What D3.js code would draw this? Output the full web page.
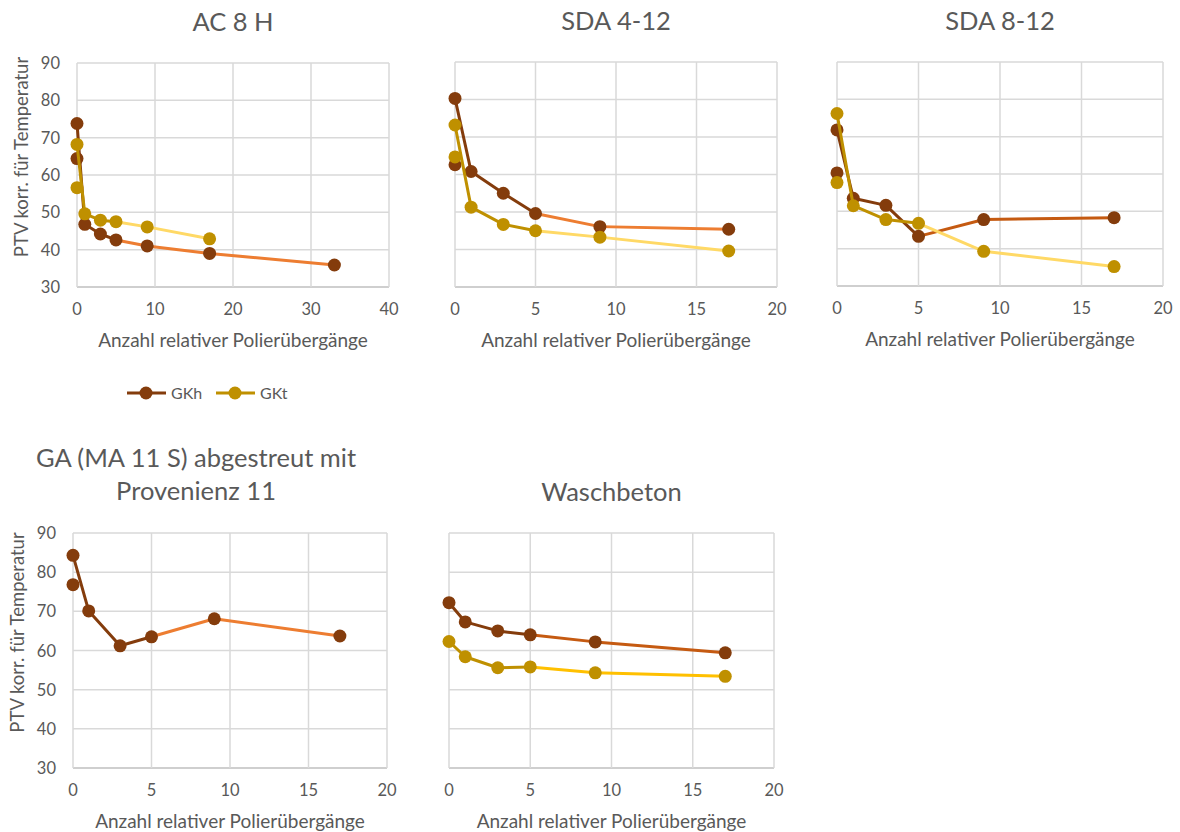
<!DOCTYPE html>
<html>
<head>
<meta charset="utf-8">
<script src="https://cdn.jsdelivr.net/npm/d3@7"></script>
<style>
  body { margin: 0; background: #fff; }
  text { font-family: Lato, "Open Sans", sans-serif; fill: #595959; }
</style>
</head>
<body>
<svg id="chart" width="1180" height="832"></svg>
<script>
// panel titles
const titles = [["AC 8 H"], ["SDA 4-12"], ["SDA 8-12"], ["GA (MA 11 S) abgestreut mit", "Provenienz 11"], ["Waschbeton"]];

// passes (x) for each panel
const xAC8H = [0, 1, 3, 5, 9, 17, 33];
const xSDA = [0, 1, 3, 5, 9, 17];

// GKh values
const gkhAC8H = [73.8, 46.8, 44.2, 42.6, 41.0, 39.0, 35.9];
const gkhSDA412 = [80.3, 60.8, 55.0, 49.6, 46.1, 45.4];
const gkhSDA812 = [71.8, 53.5, 51.6, 43.3, 47.8, 48.3];
const gkhGA = [84.3, 70.1, 61.2, 63.5, 68.1, 63.7];
const gkhWasch = [72.2, 67.3, 65.0, 64.0, 62.2, 59.4];

// GKt values
const gktAC8H = [68.2, 49.6, 47.9, 47.5, 46.1, 42.9];
const gktSDA412 = [73.2, 51.3, 46.7, 45.0, 43.3, 39.6];
const gktSDA812 = [76.2, 51.5, 47.8, 46.8, 39.3, 35.2];
const gktWasch = [62.3, 58.4, 55.6, 55.8, 54.3, 53.4];

// extra point at x = 0 (not joined to line)
const gkhStart = [64.4, 62.6, 60.3, 76.8, null];
const gktStart = [56.6, 64.7, 57.7, null, null];

const yTicks = [30, 40, 50, 60, 70, 80, 90];
const xMax = [40, 20, 20, 20, 20];
const xStep = [10, 5, 5, 5, 5];

const series = ["GKh", "GKt"];

const markColor = { GKh: "#843C0C", GKt: "#BF9000" };
const lineLate = [
  { GKh: "#ED7D31", GKt: "#FFD966" },
  { GKh: "#ED7D31", GKt: "#FFD966" },
  { GKh: "#C55A11", GKt: "#FFD966" },
  { GKh: "#ED7D31", GKt: "#FFD966" },
  { GKh: "#C55A11", GKt: "#FFC000" }
];

// plot boxes: left, right, top, bottom
const boxes = [
  [77, 389, 63, 287],
  [455, 777, 62, 287],
  [837, 1163, 62, 286],
  [73, 387, 533, 768],
  [449, 774, 533, 768]
];

const panels = [
  { x: [xAC8H, xAC8H.slice(0, 6)], y: [gkhAC8H, gktAC8H] },
  { x: [xSDA, xSDA], y: [gkhSDA412, gktSDA412] },
  { x: [xSDA, xSDA], y: [gkhSDA812, gktSDA812] },
  { x: [xSDA, null], y: [gkhGA, null] },
  { x: [xSDA, xSDA], y: [gkhWasch, gktWasch] }
];
const starts = [gkhStart, gktStart];

const svg = d3.select("#chart");

panels.forEach((p, i) => {
  const [l, r, t, b] = boxes[i];
  const g = svg.append("g");
  const x = d3.scaleLinear().domain([0, xMax[i]]).range([l, r]);
  const y = d3.scaleLinear().domain([30, 90]).range([b, t]);
  const xt = d3.range(0, xMax[i] + 1, xStep[i]);

  // grid
  g.selectAll(".hg").data(yTicks).enter().append("line")
    .attr("x1", l).attr("x2", r).attr("y1", d => y(d)).attr("y2", d => y(d))
    .attr("stroke", d => d === 30 ? "#bfbfbf" : "#d9d9d9").attr("stroke-width", 1.5);
  g.selectAll(".vg").data(xt).enter().append("line")
    .attr("x1", d => x(d)).attr("x2", d => x(d)).attr("y1", t).attr("y2", b)
    .attr("stroke", "#d9d9d9").attr("stroke-width", 1.5);

  // x tick labels
  g.selectAll(".xl").data(xt).enter().append("text")
    .attr("x", d => x(d)).attr("y", b + 28)
    .attr("text-anchor", "middle").attr("font-size", 16.5).text(d => d);

  // y tick labels, only first column
  if (i === 0 || i === 3) {
    g.selectAll(".yl").data(yTicks).enter().append("text")
      .attr("x", l - 17).attr("y", d => y(d) + 6)
      .attr("text-anchor", "end").attr("font-size", 16.5).text(d => d);
    g.append("text")
      .attr("transform", `translate(${l - 49},${(t + b) / 2 - 18}) rotate(-90)`)
      .attr("text-anchor", "middle").attr("font-size", 18.5)
      .text("PTV korr. für Temperatur");
  }

  // x axis title
  g.append("text")
    .attr("x", (l + r) / 2).attr("y", b + 60)
    .attr("text-anchor", "middle").attr("font-size", 19)
    .text("Anzahl relativer Polierübergänge");

  // panel title
  const lines = titles[i];
  lines.forEach((s, k) => {
    g.append("text")
      .attr("x", lines.length > 1 ? 196 : (l + r) / 2)
      .attr("y", lines.length > 1 ? t - 66 + k * 33 : t - 32)
      .attr("text-anchor", "middle").attr("font-size", 25.5)
      .text(s);
  });

  // series lines and markers
  series.forEach((s, j) => {
    const xs = p.x[j], ys = p.y[j];
    if (!xs) return;
    const pts = xs.map((v, k) => [v, ys[k]]);
    for (let k = 0; k < pts.length - 1; k++) {
      g.append("line")
        .attr("x1", x(pts[k][0])).attr("y1", y(pts[k][1]))
        .attr("x2", x(pts[k + 1][0])).attr("y2", y(pts[k + 1][1]))
        .attr("stroke", pts[k][0] < 5 ? markColor[s] : lineLate[i][s])
        .attr("stroke-width", 3).attr("stroke-linecap", "round");
    }
    const all = pts.slice();
    if (starts[j][i] != null) all.push([0, starts[j][i]]);
    g.selectAll(".m" + s).data(all).enter().append("circle")
      .attr("cx", d => x(d[0])).attr("cy", d => y(d[1])).attr("r", 6.5)
      .attr("fill", markColor[s]);
  });
});

// legend
const legend = svg.append("g").attr("transform", "translate(127,393)");
series.forEach((s, j) => {
  const lg = legend.append("g").attr("transform", `translate(${j * 89},0)`);
  lg.append("line").attr("x1", 0).attr("x2", 39).attr("y1", 0).attr("y2", 0)
    .attr("stroke", markColor[s]).attr("stroke-width", 3);
  lg.append("circle").attr("cx", 19).attr("cy", 0).attr("r", 6.5).attr("fill", markColor[s]);
  lg.append("text").attr("x", 44).attr("y", 5.5).attr("font-size", 16).text(s);
});
</script>
</body>
</html>
